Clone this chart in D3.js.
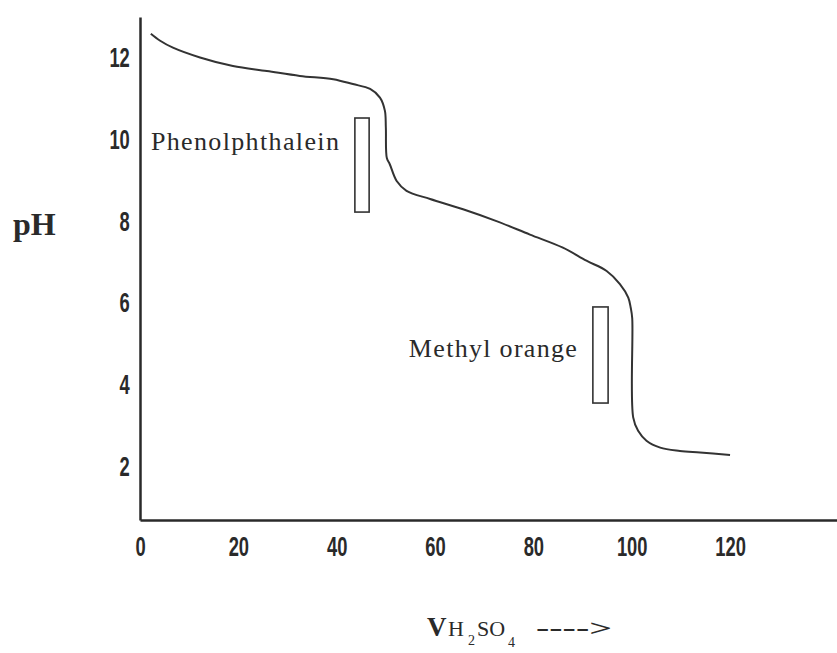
<!DOCTYPE html>
<html>
<head>
<meta charset="utf-8">
<script src="https://cdn.jsdelivr.net/npm/d3@7"></script>
<style>
  html, body { margin: 0; padding: 0; background: #fff; }
  svg { display: block; }
</style>
</head>
<body>
<div id="chart"></div>
<script>
// titration curve
const volume = [2.2, 4.1, 6.7, 12.2, 18.9, 25.8, 32.5, 39.3, 43.3, 46.8, 48.8, 49.8, 50.0, 50.2, 50.8,
  52.2, 54.2, 59.0, 65.7, 72.5, 79.3, 86.0, 90.8, 94.9, 97.6, 99.3, 99.8, 100.1, 100.3,
  101.3, 103.0, 105.8, 109.8, 113.9, 120.0];
const pH = [12.59, 12.42, 12.25, 12.01, 11.80, 11.68, 11.56, 11.48, 11.36, 11.24, 11.03, 10.71, 10.29, 9.55, 9.40,
  8.99, 8.75, 8.55, 8.30, 8.01, 7.68, 7.36, 7.04, 6.79, 6.47, 6.14, 5.89, 5.64, 3.21,
  2.88, 2.64, 2.47, 2.39, 2.35, 2.29];

// indicator bars: name, volume range, pH range
const indicatorNames = ['Phenolphthalein', 'Methyl orange'];
const indicatorVol = [[43.7, 46.6], [92.1, 95.2]];
const indicatorPH = [[8.23, 10.53], [3.56, 5.91]];

const xTicks = [0, 20, 40, 60, 80, 100, 120];
const yTicks = [2, 4, 6, 8, 10, 12];

const width = 837, height = 653;

const x = d3.scaleLinear().domain([0, 141.75]).range([140, 837]);
const y = d3.scaleLinear().domain([0.7, 13]).range([520, 17]);

const svg = d3.select('#chart').append('svg')
  .attr('width', width)
  .attr('height', height);

const ink = '#2a2a2a';
const tickFont = '"Liberation Sans", Arial, sans-serif';
const serif = '"Liberation Serif", "Times New Roman", serif';

// axes
const xAxis = svg.append('g')
  .attr('transform', `translate(0,${y(0.7)})`)
  .call(d3.axisBottom(x).tickValues(xTicks).tickSize(0).tickSizeOuter(0).tickPadding(17));
const yAxis = svg.append('g')
  .attr('transform', `translate(${x(0)},0)`)
  .call(d3.axisLeft(y).tickValues(yTicks).tickSize(0).tickSizeOuter(0).tickPadding(15));

[xAxis, yAxis].forEach(g => {
  g.select('.domain').attr('stroke', ink).attr('stroke-width', 2.5);
  // the original digits are tall and narrow
  g.selectAll('text')
    .attr('fill', ink)
    .attr('transform', 'scale(0.68,1)')
    .style('font-family', tickFont)
    .style('font-size', '27px')
    .style('font-weight', 'bold');
});

// curve
const line = d3.line()
  .x((d, i) => x(volume[i]))
  .y(d => y(d))
  .curve(d3.curveCatmullRom.alpha(0.5));

svg.append('path')
  .datum(pH)
  .attr('fill', 'none')
  .attr('stroke', '#333')
  .attr('stroke-width', 2)
  .attr('d', line);

// indicator ranges
const labelPH = [9.75, 4.69];
const labelWidth = [188, 168];

indicatorNames.forEach((name, i) => {
  const [v0, v1] = indicatorVol[i];
  const [p0, p1] = indicatorPH[i];
  svg.append('rect')
    .attr('x', x(v0))
    .attr('y', y(p1))
    .attr('width', x(v1) - x(v0))
    .attr('height', y(p0) - y(p1))
    .attr('fill', 'none')
    .attr('stroke', '#333')
    .attr('stroke-width', 1.6);

  svg.append('text')
    .attr('x', x(v0) - 16 - labelWidth[i])
    .attr('y', y(labelPH[i]))
    .attr('textLength', labelWidth[i])
    .attr('lengthAdjust', 'spacing')
    .attr('fill', ink)
    .style('font-family', serif)
    .style('font-size', '26px')
    .text(name);
});

// axis titles
svg.append('text')
  .attr('x', 13)
  .attr('y', 235)
  .attr('fill', ink)
  .style('font-family', serif)
  .style('font-size', '32px')
  .style('font-weight', 'bold')
  .text('pH');

const xTitle = svg.append('text')
  .attr('y', 636)
  .attr('fill', ink)
  .style('font-family', serif)
  .style('font-size', '22px');
xTitle.append('tspan').attr('x', 427).style('font-size', '27px').style('font-weight', 'bold').text('V');
xTitle.append('tspan').attr('x', 448).text('H');
xTitle.append('tspan').attr('x', 468).attr('y', 645).style('font-size', '14px').text('2');
xTitle.append('tspan').attr('x', 477).attr('y', 636).text('SO');
xTitle.append('tspan').attr('x', 508).attr('y', 647).style('font-size', '14px').text('4');

svg.append('text')
  .attr('x', 536)
  .attr('y', 636)
  .attr('textLength', 76)
  .attr('lengthAdjust', 'spacingAndGlyphs')
  .attr('fill', ink)
  .style('font-family', serif)
  .style('font-size', '24px')
  .style('font-weight', 'bold')
  .text('---->');
</script>
</body>
</html>
